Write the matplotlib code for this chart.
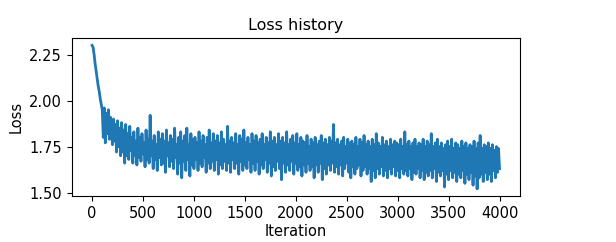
import numpy as np
import matplotlib
matplotlib.use('Agg')
import matplotlib.pyplot as plt

# loss, one value every 10 iterations (one row = 100 iterations)
loss_history = [
    2.30, 2.29, 2.25, 2.20, 2.16, 2.12, 2.08, 2.05, 2.01, 1.98,
    1.95, 1.80, 1.96, 1.77, 1.93, 1.82, 1.95, 1.79, 1.91, 1.84,
    1.76, 1.90, 1.78, 1.87, 1.72, 1.89, 1.75, 1.85, 1.70, 1.88,
    1.72, 1.84, 1.66, 1.87, 1.70, 1.82, 1.68, 1.86, 1.73, 1.80,
    1.66, 1.83, 1.70, 1.78, 1.65, 1.85, 1.69, 1.80, 1.67, 1.82,
    1.71, 1.77, 1.64, 1.84, 1.68, 1.79, 1.66, 1.92, 1.70, 1.78,
    1.63, 1.81, 1.68, 1.76, 1.62, 1.83, 1.69, 1.79, 1.65, 1.82,
    1.66, 1.78, 1.61, 1.84, 1.70, 1.77, 1.64, 1.81, 1.67, 1.79,
    1.63, 1.85, 1.69, 1.76, 1.60, 1.80, 1.66, 1.83, 1.58, 1.78,
    1.67, 1.81, 1.62, 1.85, 1.68, 1.76, 1.59, 1.82, 1.65, 1.79,
    1.63, 1.80, 1.68, 1.77, 1.62, 1.83, 1.66, 1.78, 1.64, 1.81,
    1.69, 1.76, 1.61, 1.80, 1.66, 1.84, 1.63, 1.77, 1.67, 1.82,
    1.62, 1.78, 1.68, 1.81, 1.60, 1.77, 1.65, 1.83, 1.63, 1.79,
    1.67, 1.76, 1.62, 1.86, 1.66, 1.78, 1.61, 1.80, 1.68, 1.77,
    1.63, 1.82, 1.66, 1.76, 1.60, 1.81, 1.67, 1.79, 1.62, 1.84,
    1.65, 1.77, 1.63, 1.80, 1.68, 1.76, 1.61, 1.82, 1.66, 1.78,
    1.62, 1.81, 1.67, 1.77, 1.60, 1.79, 1.65, 1.82, 1.63, 1.76,
    1.68, 1.80, 1.61, 1.77, 1.66, 1.83, 1.59, 1.78, 1.64, 1.80,
    1.62, 1.76, 1.67, 1.82, 1.63, 1.78, 1.57, 1.80, 1.66, 1.77,
    1.61, 1.83, 1.65, 1.76, 1.62, 1.79, 1.67, 1.81, 1.60, 1.77,
    1.66, 1.82, 1.62, 1.76, 1.64, 1.80, 1.59, 1.78, 1.65, 1.77,
    1.61, 1.81, 1.66, 1.75, 1.62, 1.79, 1.64, 1.77, 1.58, 1.80,
    1.65, 1.76, 1.61, 1.78, 1.66, 1.81, 1.57, 1.77, 1.63, 1.79,
    1.60, 1.76, 1.65, 1.80, 1.62, 1.78, 1.66, 1.87, 1.61, 1.77,
    1.64, 1.79, 1.60, 1.76, 1.65, 1.78, 1.59, 1.80, 1.63, 1.75,
    1.66, 1.79, 1.61, 1.77, 1.58, 1.78, 1.64, 1.76, 1.60, 1.80,
    1.63, 1.75, 1.65, 1.79, 1.59, 1.77, 1.62, 1.81, 1.64, 1.76,
    1.60, 1.78, 1.63, 1.75, 1.56, 1.79, 1.62, 1.76, 1.58, 1.82,
    1.63, 1.77, 1.60, 1.75, 1.64, 1.80, 1.59, 1.76, 1.62, 1.78,
    1.58, 1.75, 1.63, 1.79, 1.60, 1.76, 1.64, 1.78, 1.59, 1.77,
    1.62, 1.76, 1.58, 1.79, 1.63, 1.75, 1.60, 1.83, 1.62, 1.76,
    1.59, 1.78, 1.63, 1.75, 1.57, 1.77, 1.61, 1.79, 1.60, 1.75,
    1.63, 1.77, 1.58, 1.76, 1.62, 1.79, 1.57, 1.75, 1.61, 1.78,
    1.59, 1.76, 1.62, 1.82, 1.58, 1.75, 1.63, 1.77, 1.56, 1.79,
    1.61, 1.75, 1.59, 1.77, 1.62, 1.74, 1.53, 1.76, 1.60, 1.78,
    1.57, 1.75, 1.62, 1.79, 1.58, 1.74, 1.61, 1.77, 1.56, 1.76,
    1.60, 1.74, 1.58, 1.78, 1.62, 1.75, 1.55, 1.77, 1.60, 1.74,
    1.57, 1.76, 1.61, 1.75, 1.54, 1.78, 1.59, 1.74, 1.52, 1.77,
    1.58, 1.81, 1.60, 1.74, 1.56, 1.76, 1.61, 1.75, 1.57, 1.77,
    1.60, 1.74, 1.56, 1.76, 1.62, 1.73, 1.58, 1.75, 1.61, 1.74,
    1.63,
]
iterations = np.arange(len(loss_history)) * 10
yticks = [1.50, 1.75, 2.00, 2.25]

fig = plt.figure(figsize=(6.16, 2.42), dpi=100)
ax = fig.add_axes([0.1164, 0.19, 0.7276, 0.652])
ax.plot(iterations, loss_history, color='#1f77b4', linewidth=2.0)
ax.set_yticks(yticks)
ax.set_xticks(range(0, 4001, 500))
ax.tick_params(labelsize=10.5)
ax.set_title('Loss history', fontsize=11.5)
ax.set_xlabel('Iteration', fontsize=10.5, labelpad=2)
ax.set_ylabel('Loss', fontsize=10.5)

fig.savefig('out.png', dpi=100)
